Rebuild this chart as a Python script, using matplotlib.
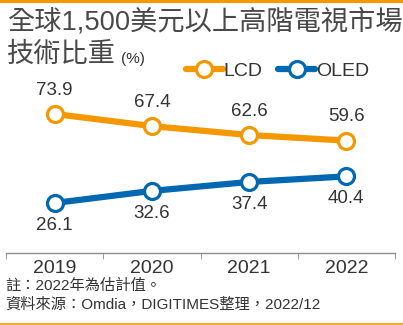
import matplotlib
matplotlib.use("Agg")
import matplotlib.pyplot as plt
from matplotlib.lines import Line2D

plt.rcParams['font.family'] = ['Liberation Sans', 'Noto Sans CJK TC']

years = ['2019', '2020', '2021', '2022']
lcd = [73.9, 67.4, 62.6, 59.6]
oled = [26.1, 32.6, 37.4, 40.4]

orange = '#F39800'
blue = '#0068B0'
txt = '#333333'

fig = plt.figure(figsize=(4.03, 3.25), dpi=100)
ax = fig.add_axes([6 / 403, 1 - 253 / 325, 389 / 403, 169 / 325])
ax.set_xlim(-0.5, 3.5)
ax.set_ylim(-0.75, 90)

x = range(len(years))
style = dict(linewidth=4.5, marker='o', markersize=11.5, markerfacecolor='white',
             markeredgewidth=2.3, solid_capstyle='round', clip_on=False)
ax.plot(x, lcd, color=orange, **style)
ax.plot(x, oled, color=blue, **style)

for i, v in enumerate(lcd):
    ax.annotate(f'{v}', (i, v), xytext=(0, 11), textcoords='offset points',
                ha='center', va='bottom', fontsize=13.5, color=txt)
for i, v in enumerate(oled):
    ax.annotate(f'{v}', (i, v), xytext=(0, -10), textcoords='offset points',
                ha='center', va='top', fontsize=13.5, color=txt)

for s in ['top', 'right', 'left']:
    ax.spines[s].set_visible(False)
ax.spines['bottom'].set_color('#8c8c8c')
ax.spines['bottom'].set_linewidth(1)
ax.set_yticks([])
ax.set_xticks(list(x))
ax.set_xticklabels(years, fontsize=14, color=txt)
ax.tick_params(axis='x', which='major', length=0, pad=5)
ax.set_xticks([-0.5, 0.5, 1.5, 2.5, 3.5], minor=True)
ax.tick_params(axis='x', which='minor', length=4, color='#8c8c8c', direction='out')

# legend
handles = [Line2D([], [], color=orange, **style), Line2D([], [], color=blue, **style)]
fig.legend(handles, ['LCD', 'OLED'], loc='center left', bbox_to_anchor=(176 / 403, 1 - 71 / 325),
           ncol=2, frameon=False, fontsize=14, handlelength=1.9, handletextpad=0.05,
           columnspacing=0.8, borderpad=0, labelcolor=txt)

# title
fig.text(7 / 403, 1 - 22 / 325, '全球1,500美元以上高階電視市場', fontsize=19.6, color='#484848',
         va='center', ha='left', fontweight='medium')
fig.text(7 / 403, 1 - 55 / 325, '技術比重', fontsize=19.6, color='#484848',
         va='center', ha='left', fontweight='medium')
fig.text(121 / 403, 1 - 59 / 325, '(%)', fontsize=11, color=txt, va='center', ha='left')

fig.text(5 / 403, 1 - 286 / 325, '註：2022年為估計值。', fontsize=11, color=txt,
         va='center', ha='left')
fig.text(5 / 403, 1 - 304.5 / 325, '資料來源：Omdia，DIGITIMES整理，2022/12', fontsize=11,
         color=txt, va='center', ha='left')

# decorative orange rules
fig.add_artist(Line2D([0, 1], [1 - 1 / 325, 1 - 1 / 325], color=orange, linewidth=2.2,
                      transform=fig.transFigure))
fig.add_artist(Line2D([0, 1], [1 - 323.5 / 325, 1 - 323.5 / 325], color=orange, linewidth=1.2,
                      transform=fig.transFigure))

fig.savefig('out.png', dpi=100)
